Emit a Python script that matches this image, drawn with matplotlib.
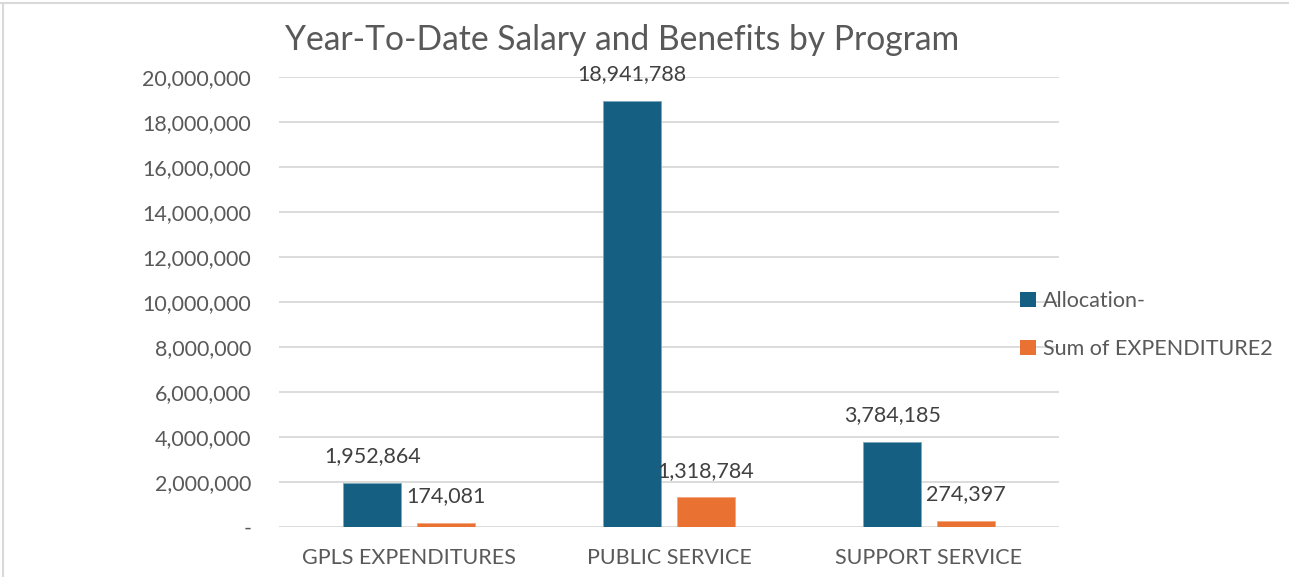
import matplotlib
matplotlib.use("Agg")
import matplotlib.pyplot as plt
import numpy as np
from matplotlib.lines import Line2D
from matplotlib.patches import Patch
from matplotlib.ticker import FuncFormatter

categories = ["GPLS EXPENDITURES", "PUBLIC SERVICE", "SUPPORT SERVICE"]
allocation = [1952864, 18941788, 3784185]
expenditure = [174081, 1318784, 274397]
series_names = ["Allocation-", "Sum of EXPENDITURE2"]
title = "Year-To-Date Salary and Benefits by Program"

BLUE = "#156082"
ORANGE = "#E97132"
TEXT = "#595959"
GRID = "#D9D9D9"
FONT = "Lato"

W, H = 1289, 577
fig = plt.figure(figsize=(W / 100, H / 100), dpi=100)
ax = fig.add_axes([279 / W, 1 - 527 / H, 780 / W, 450 / H])

x = np.arange(len(categories))
bw = 0.223
gap = 0.06
off = (bw + gap) / 2
b1 = ax.bar(x - off, allocation, bw, color=BLUE, edgecolor="#7fa9bd", linewidth=0.6, zorder=3)
b2 = ax.bar(x + off, expenditure, bw, color=ORANGE, edgecolor="#f2a77f", linewidth=0.6, zorder=3)

for bars in (b1, b2):
    for r in bars:
        v = r.get_height()
        ax.annotate(f"{v:,.0f}", (r.get_x() + r.get_width() / 2, v),
                    xytext=(0, 12), textcoords="offset points", ha="center", va="bottom",
                    fontsize=15.5, color="#404040", family=FONT)

ax.set_ylim(0, 20000000)
ax.set_xlim(-0.5, 2.5)
ax.set_yticks(np.arange(0, 20000001, 2000000))
ax.yaxis.set_major_formatter(FuncFormatter(lambda v, p: "-" if v == 0 else f"{v:,.0f}"))
ax.set_xticks(x)
ax.set_xticklabels(categories)
ax.grid(axis="y", color=GRID, linewidth=1.3, zorder=0)
for s in ax.spines.values():
    s.set_visible(False)
ax.tick_params(axis="both", length=0, colors=TEXT, labelsize=15.5)
ax.tick_params(axis="y", pad=20)
ax.tick_params(axis="x", pad=15)
for lab in ax.get_xticklabels() + ax.get_yticklabels():
    lab.set_family(FONT)
    lab.set_color(TEXT)

fig.text(622 / W, 1 - 40 / H, title, ha="center", va="center", fontsize=24.2,
         color=TEXT, family=FONT)

handles = [Patch(facecolor=BLUE), Patch(facecolor=ORANGE)]
leg = fig.legend(handles, series_names, loc="center left",
                 bbox_to_anchor=(1020 / W, 1 - 325 / H), frameon=False,
                 handlelength=0.75, handleheight=0.75, handletextpad=0.3,
                 labelspacing=1.3, prop={"family": FONT, "size": 15.5},
                 labelcolor=TEXT, borderaxespad=0, borderpad=0)

fig.add_artist(Line2D([0, 1], [1 - 2.5 / H, 1 - 2.5 / H], transform=fig.transFigure,
                      color=GRID, linewidth=1.5))
fig.add_artist(Line2D([2.5 / W, 2.5 / W], [0, 1 - 2.5 / H], transform=fig.transFigure,
                      color=GRID, linewidth=1.5))

fig.savefig("out.png", dpi=100, facecolor="white")
